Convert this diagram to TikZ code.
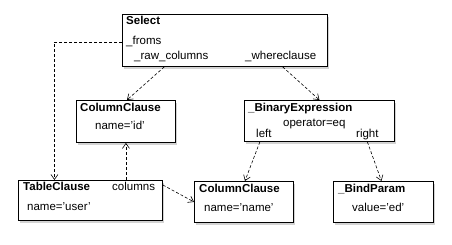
\documentclass[tikz,border=0pt]{standalone}
\usepackage{fontspec}
\setmainfont{Liberation Sans}
\usetikzlibrary{arrows.meta,shadows}

\tikzset{
  objbox/.style={draw, line width=0.9pt, fill=white, anchor=north west,
    drop shadow={shadow xshift=2pt, shadow yshift=-3pt, opacity=0.35}},
  lbl/.style={anchor=base west, inner sep=0pt, font=\fontsize{11.5}{13}\selectfont},
  title/.style={lbl, font=\fontsize{11.5}{13}\selectfont\bfseries},
  ref/.style={dash pattern=on 3pt off 2pt, line width=0.6pt, -{Straight Barb[length=5pt,width=7pt]}}
}

\begin{document}
\begin{tikzpicture}[x=1pt, y=-1pt]
    \useasboundingbox (0,0) rectangle (452,245);

    % object boxes
    \node[objbox, minimum width=205pt, minimum height=52pt] (select) at (122,14) {};
    \node[objbox, minimum width=99pt, minimum height=42pt] (colid) at (76,100) {};
    \node[objbox, minimum width=150pt, minimum height=41pt] (binexp) at (244,100) {};
    \node[objbox, minimum width=144pt, minimum height=40pt] (tablecl) at (18,180) {};
    \node[objbox, minimum width=99pt, minimum height=41pt] (colname) at (194,181) {};
    \node[objbox, minimum width=100pt, minimum height=41pt] (bindp) at (333,181) {};

    % Select
    \node[title] (selectt) at (126,25) {Select};
    \node[lbl] (froms) at (126,45) {\_froms};
    \node[lbl] (rawcols) at (134,60) {\_raw\_columns};
    \node[lbl] (where) at (245,60) {\_whereclause};

    % ColumnClause id
    \node[title] (colidt) at (80,112) {ColumnClause};
    \node[lbl] (colidname) at (95,130) {name='id'};

    % _BinaryExpression
    \node[title] (binexpt) at (248,112) {\_BinaryExpression};
    \node[lbl] (oper) at (283,127) {operator=eq};
    \node[lbl] (leftlbl) at (256,138) {left};
    \node[lbl] (rightlbl) at (356,138) {right};

    % TableClause
    \node[title] (tablet) at (23,191) {TableClause};
    \node[lbl] (colslbl) at (112,191) {columns};
    \node[lbl] (tablename) at (27,211) {name='user'};

    % ColumnClause name
    \node[title] (colnamet) at (199,193) {ColumnClause};
    \node[lbl] (colnamename) at (204,212) {name='name'};

    % _BindParam
    \node[title] (bindpt) at (338,193) {\_BindParam};
    \node[lbl] (bindval) at (352,212) {value='ed'};

    % references
    \draw[ref] (froms.west -| select.west) -| ([xshift=-36pt]tablecl.north);
    \draw[ref] ([xshift=-7pt]rawcols.south |- select.south) -- ([xshift=1pt]colid.north);
    \draw[ref] ([xshift=2pt]where.south |- select.south) -- (binexp.north);
    \draw[ref] (colid.south |- tablecl.north) -- (colid.south);
    \draw[ref] ([yshift=-5pt]tablecl.north east) -- (colname.west);
    \draw[ref] ([xshift=-4pt]leftlbl.south |- binexp.south) -- ([xshift=1pt]colname.north);
    \draw[ref] (rightlbl.south |- binexp.south) -- ([xshift=-2pt]bindp.north);
\end{tikzpicture}
\end{document}
